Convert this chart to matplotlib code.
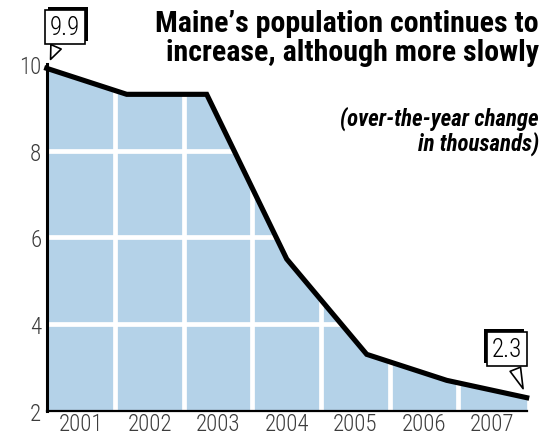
import matplotlib.pyplot as plt, numpy as np
from matplotlib import patheffects as pe

years = ["2001", "2002", "2003", "2004", "2005", "2006", "2007"]
change = [9.9, 9.3, 9.3, 5.5, 3.3, 2.7, 2.3]  # over-the-year change, thousands
yticks = [2, 4, 6, 8, 10]

cond = ["Roboto Condensed", "DejaVu Sans"]
fill_color = "#b4d2e8"
label_color = "#3c3c3c"

fig = plt.figure(figsize=(5.58, 4.35), dpi=100)
ax = fig.add_axes([0.0837, 0.0536, 0.8602, 0.797])

x = np.arange(len(change))
n = len(years)
span = x[-1] - x[0]

ax.fill_between(x, 2, change, color=fill_color, lw=0, zorder=1)
# white grid: 7 year columns across the data span
for k in range(1, n):
    ax.axvline(k * span / n, color="white", lw=3.4, zorder=2)
for t in yticks[1:-1]:
    ax.axhline(t, color="white", lw=3.4, zorder=2)
ax.plot(x, change, color="black", lw=3.7, solid_joinstyle="miter", zorder=4, clip_on=False)

ax.set_xlim(x[0], x[-1])
ax.set_ylim(2, 10)
ax.set_yticks(yticks)
ax.set_yticklabels([str(t) for t in yticks], family=cond, fontsize=16.5,
                   fontweight="light", color=label_color)
ax.set_xticks([(k + 0.5) * span / n for k in range(n)])
ax.set_xticklabels(years, family=cond, fontsize=16.5, fontweight="light", color=label_color)
ax.tick_params(length=0, pad=4)
ax.tick_params(axis="x", pad=1)

for s in ["top", "right"]:
    ax.spines[s].set_visible(False)
ax.spines["left"].set_linewidth(2.2)
ax.spines["bottom"].set_linewidth(1.6)
ax.spines["left"].set_zorder(5)
ax.spines["bottom"].set_zorder(5)


def callout(i, dx, dy, shadow):
    a = ax.annotate(f"{change[i]}", xy=(x[i], change[i]), xytext=(dx, dy),
                    textcoords="offset points", ha="center", va="center",
                    family=cond, fontsize=18, fontweight="light", color="black",
                    annotation_clip=False,
                    bbox=dict(boxstyle="square,pad=0.2", fc="white", ec="black", lw=1.2),
                    arrowprops=dict(arrowstyle="wedge,tail_width=0.45,shrink_factor=0.5",
                                    fc="white", ec="black", lw=1.2, shrinkB=7),
                    zorder=6)
    a.get_bbox_patch().set_path_effects([
        pe.SimplePatchShadow(offset=shadow, shadow_rgbFace="black", alpha=1), pe.Normal()])
    return a


callout(0, 13, 30, (2.2, 2.2))
callout(len(change) - 1, -14, 35, (-2.2, 2.2))

fig.text(0.966, 0.978, "Maine\u2019s population continues to\nincrease, although more slowly",
         ha="right", va="top", family=cond, fontsize=21.6, fontweight="bold",
         linespacing=1.05, color="black")
fig.text(0.966, 0.755, "(over-the-year change\nin thousands)",
         ha="right", va="top", family=cond, fontsize=16.5, fontweight="bold",
         style="italic", linespacing=1.05, color="black")

fig.savefig("out.png", dpi=100)
